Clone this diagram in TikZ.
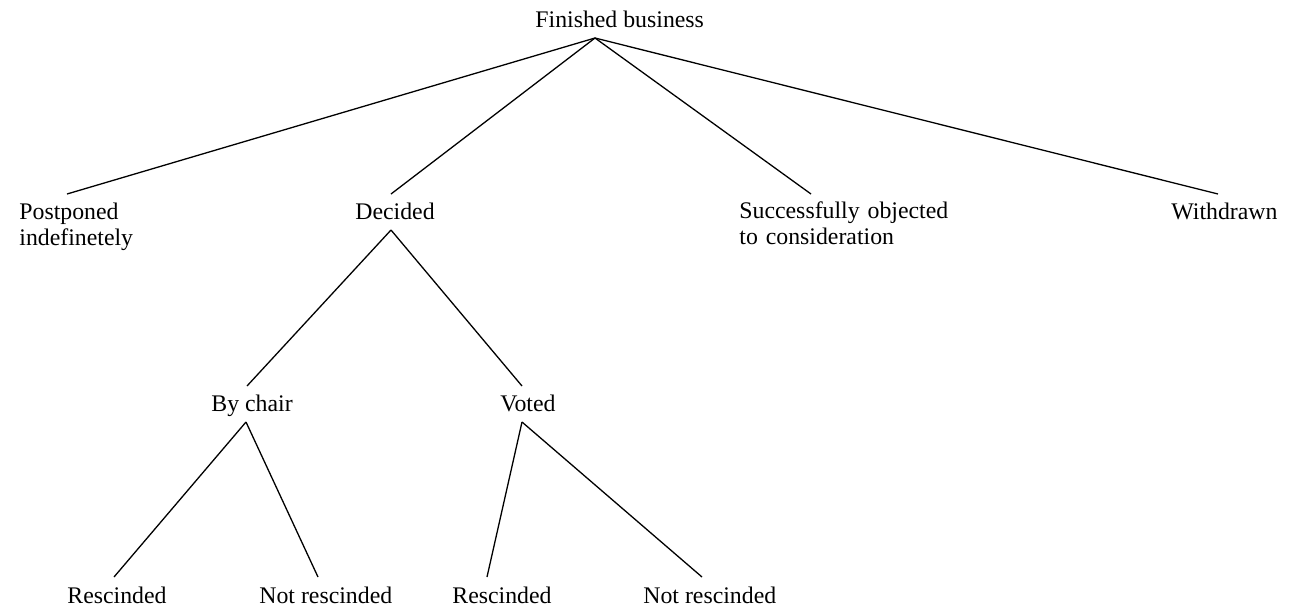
\documentclass[tikz,border=0pt]{standalone}
\usepackage{fontspec}
\setmainfont{Liberation Serif}
\begin{document}
\begin{tikzpicture}[x=0.5pt,y=-0.5pt,
  lbl/.style={inner sep=0pt, anchor=base west, font=\fontsize{11.9}{13}\selectfont},
  ml/.style={lbl, text width=120pt, align=left},
  edge/.style={line width=0.65pt}]
\useasboundingbox (0,0) rectangle (1291,612);
% labels
\node[lbl] (root) at (535,27) {Finished business};
\node[ml] (post) at (19,219) {Postponed\\indefinetely};
\node[lbl] (dec) at (355,219) {Decided};
\node[ml] (succ) at (739,218) {Successfully objected\\to consideration};
\node[lbl] (with) at (1171,219) {Withdrawn};
\node[lbl] (chair) at (211,411) {By chair};
\node[lbl] (voted) at (500,411) {Voted};
\node[lbl] (r1) at (67,603) {Rescinded};
\node[lbl] (nr1) at (259,603) {Not rescinded};
\node[lbl] (r2) at (452,603) {Rescinded};
\node[lbl] (nr2) at (643,603) {Not rescinded};
% connector ends
\coordinate (root-o) at (595,38);
\coordinate (post-i) at (67,194);
\coordinate (dec-i) at (391,194);
\coordinate (succ-i) at (811,194);
\coordinate (with-i) at (1218,194);
\coordinate (dec-o) at (391,230);
\coordinate (chair-i) at (247,386);
\coordinate (voted-i) at (522,386);
\coordinate (chair-o) at (246,422);
\coordinate (voted-o) at (522,422);
\coordinate (r1-i) at (114,577);
\coordinate (nr1-i) at (318,577);
\coordinate (r2-i) at (487,577);
\coordinate (nr2-i) at (702,577);
% connectors
\draw[edge] (root-o) -- (post-i);
\draw[edge] (root-o) -- (dec-i);
\draw[edge] (root-o) -- (succ-i);
\draw[edge] (root-o) -- (with-i);
\draw[edge] (dec-o) -- (chair-i);
\draw[edge] (dec-o) -- (voted-i);
\draw[edge] (chair-o) -- (r1-i);
\draw[edge] (chair-o) -- (nr1-i);
\draw[edge] (voted-o) -- (r2-i);
\draw[edge] (voted-o) -- (nr2-i);
\end{tikzpicture}
\end{document}
